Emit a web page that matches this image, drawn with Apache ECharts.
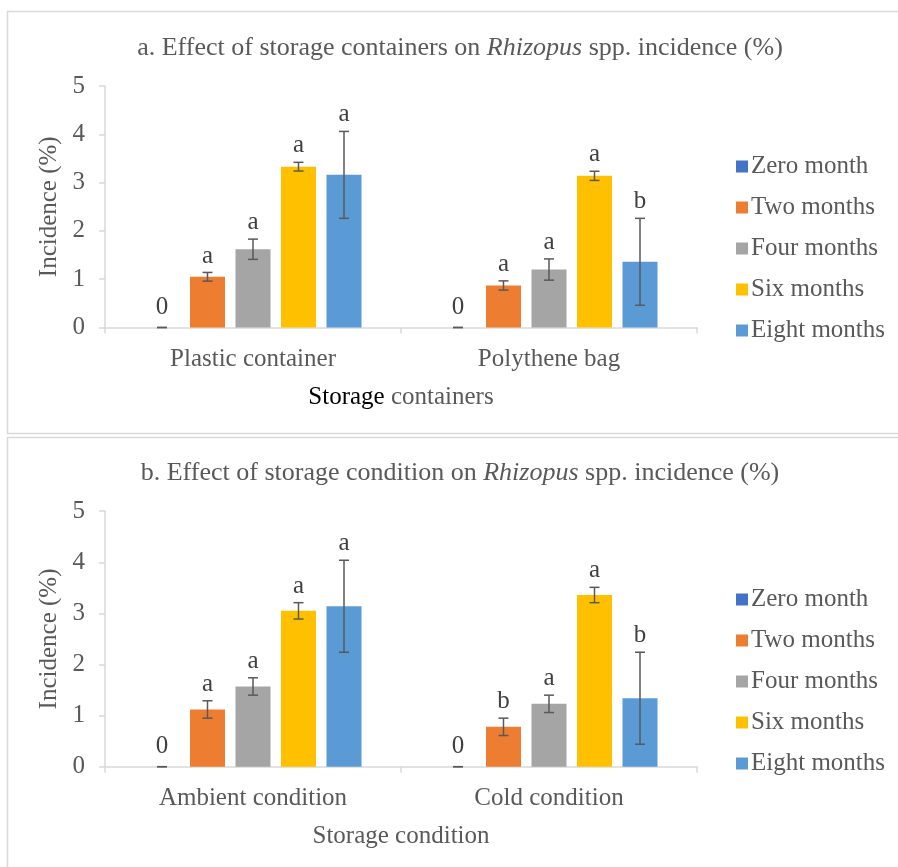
<!DOCTYPE html>
<html>
<head>
<meta charset="utf-8">
<script src="https://cdn.jsdelivr.net/npm/echarts@6/dist/echarts.min.js"></script>
<style>
  html, body { margin: 0; padding: 0; background: #fff; }
  #chart { width: 898px; height: 867px; }
</style>
</head>
<body>
<div id="chart"></div>
<script>
// Storage periods (one bar series per period)
const periods = ['Zero month', 'Two months', 'Four months', 'Six months', 'Eight months'];
const periodColors = ['#4472C4', '#ED7D31', '#A5A5A5', '#FFC000', '#5B9BD5'];

// Panel a: storage containers
const containerCategories = ['Plastic container', 'Polythene bag'];
const containerMeans = [
  [0, 0],
  [1.05, 0.87],
  [1.62, 1.20],
  [3.33, 3.14],
  [3.16, 1.36]
];
const containerErrors = [
  [0, 0],
  [0.09, 0.095],
  [0.21, 0.22],
  [0.09, 0.095],
  [0.90, 0.90]
];
const containerLetters = [
  ['0', '0'],
  ['a', 'a'],
  ['a', 'a'],
  ['a', 'a'],
  ['a', 'b']
];

// Panel b: storage condition
const conditionCategories = ['Ambient condition', 'Cold condition'];
const conditionMeans = [
  [0, 0],
  [1.12, 0.78],
  [1.57, 1.23],
  [3.05, 3.36],
  [3.14, 1.34]
];
const conditionErrors = [
  [0, 0],
  [0.17, 0.17],
  [0.17, 0.17],
  [0.16, 0.15],
  [0.90, 0.90]
];
const conditionLetters = [
  ['0', '0'],
  ['a', 'b'],
  ['a', 'a'],
  ['a', 'a'],
  ['a', 'b']
];

const yTicks = [0, 1, 2, 3, 4, 5];

const FONT = '"Liberation Serif", "Times New Roman", serif';
const TEXT = '#595959';
const AXIS = '#D9D9D9';
const FS = 25;
const TITLE_FS = 26;
const BAR_W = 35;
const BAR_GAP = 0.3;

const chart = echarts.init(document.getElementById('chart'), null, { renderer: 'canvas' });

function barSeries(means, idx) {
  return periods.map((name, s) => ({
    name: name,
    type: 'bar',
    xAxisIndex: idx,
    yAxisIndex: idx,
    barWidth: BAR_W,
    barGap: (BAR_GAP * 100) + '%',
    itemStyle: { color: periodColors[s] },
    data: means[s],
    animation: false
  }));
}

// Error bars and significance letters, placed over each bar
function errorSeries(means, errors, letters, idx) {
  const data = [];
  for (let s = 0; s < periods.length; s++) {
    for (let c = 0; c < means[s].length; c++) {
      data.push([c, s, means[s][c], errors[s][c], letters[s][c]]);
    }
  }
  return {
    type: 'custom',
    xAxisIndex: idx,
    yAxisIndex: idx,
    z: 5,
    animation: false,
    silent: true,
    data: data,
    encode: { x: 0, y: 2 },
    renderItem: function (params, api) {
      const c = api.value(0);
      const s = api.value(1);
      const m = api.value(2);
      const e = api.value(3);
      const letter = data[params.dataIndex][4];
      const center = api.coord([c, m])[0];
      const x = center + (s - (periods.length - 1) / 2) * BAR_W * (1 + BAR_GAP);
      const yTop = api.coord([c, m + e])[1];
      const yBot = api.coord([c, m - e])[1];
      const cap = 5;
      const lineStyle = { stroke: '#595959', lineWidth: 1.5 };
      return {
        type: 'group',
        children: [
          { type: 'line', shape: { x1: x, y1: yTop, x2: x, y2: yBot }, style: lineStyle },
          { type: 'line', shape: { x1: x - cap, y1: yTop, x2: x + cap, y2: yTop }, style: lineStyle },
          { type: 'line', shape: { x1: x - cap, y1: yBot, x2: x + cap, y2: yBot }, style: lineStyle },
          {
            type: 'text',
            style: {
              text: letter,
              x: x,
              y: yTop - (e === 0 ? 8 : 4),
              textAlign: 'center',
              textVerticalAlign: 'bottom',
              fill: '#404040',
              font: FS + 'px ' + FONT
            }
          }
        ]
      };
    }
  };
}

function xAxis(categories, idx, nameRich) {
  return {
    type: 'category',
    gridIndex: idx,
    data: categories,
    axisLine: { lineStyle: { color: AXIS, width: 1.5 } },
    axisTick: { show: true, length: 6, lineStyle: { color: AXIS, width: 1.5 } },
    axisLabel: { color: TEXT, fontFamily: FONT, fontSize: FS, margin: 19 },
    name: nameRich,
    nameLocation: 'middle',
    nameGap: 57,
    nameTextStyle: {
      fontFamily: FONT, fontSize: FS, color: TEXT,
      rich: {
        dark: { fontFamily: FONT, fontSize: FS, color: '#000000' },
        grey: { fontFamily: FONT, fontSize: FS, color: TEXT }
      }
    }
  };
}

function yAxis(idx) {
  return {
    type: 'value',
    gridIndex: idx,
    min: yTicks[0],
    max: yTicks[yTicks.length - 1],
    interval: yTicks[1] - yTicks[0],
    splitLine: { show: false },
    axisLine: { show: true, lineStyle: { color: AXIS, width: 1.5 } },
    axisTick: { show: true, length: 6, lineStyle: { color: AXIS, width: 1.5 } },
    axisLabel: { color: TEXT, fontFamily: FONT, fontSize: FS, margin: 20 },
    name: 'Incidence (%)',
    nameLocation: 'middle',
    nameRotate: 90,
    nameGap: 42,
    nameTextStyle: { fontFamily: FONT, fontSize: FS, color: TEXT }
  };
}

function legend(top) {
  return {
    data: periods,
    orient: 'vertical',
    left: 731,
    top: top,
    icon: 'rect',
    itemWidth: 12,
    itemHeight: 12,
    itemGap: 16,
    selectedMode: false,
    textStyle: { color: TEXT, fontFamily: FONT, fontSize: FS, padding: [0, 0, 0, -2] }
  };
}

function titleText(lead) {
  return '{n|' + lead + ' on }{i|Rhizopus}{n| spp. incidence (%)}';
}

const titleRich = {
  n: { fontFamily: FONT, fontSize: TITLE_FS, color: TEXT, fontWeight: 'normal' },
  i: { fontFamily: FONT, fontSize: TITLE_FS, color: TEXT, fontWeight: 'normal', fontStyle: 'italic' }
};

const option = {
  backgroundColor: '#ffffff',
  animation: false,
  graphic: [
    { type: 'rect', shape: { x: 7.5, y: 11.5, width: 900, height: 422 }, style: { fill: 'none', stroke: AXIS, lineWidth: 1.5 }, silent: true },
    { type: 'rect', shape: { x: 7.5, y: 437.5, width: 900, height: 440 }, style: { fill: 'none', stroke: AXIS, lineWidth: 1.5 }, silent: true }
  ],
  title: [
    {
      text: titleText('a. Effect of storage containers'),
      left: 459, top: 30, textAlign: 'center',
      textStyle: { fontWeight: 'normal', rich: titleRich }
    },
    {
      text: titleText('b. Effect of storage condition'),
      left: 459, top: 455, textAlign: 'center',
      textStyle: { fontWeight: 'normal', rich: titleRich }
    }
  ],
  legend: [legend(149), legend(582)],
  grid: [
    { left: 105, right: 201, top: 86, bottom: 539.5 },
    { left: 105, right: 201, top: 511.2, bottom: 100.3 }
  ],
  xAxis: [
    xAxis(containerCategories, 0, '{dark|Storage}{grey| containers}'),
    xAxis(conditionCategories, 1, 'Storage condition')
  ],
  yAxis: [yAxis(0), yAxis(1)],
  series: [].concat(
    barSeries(containerMeans, 0),
    barSeries(conditionMeans, 1),
    [errorSeries(containerMeans, containerErrors, containerLetters, 0),
     errorSeries(conditionMeans, conditionErrors, conditionLetters, 1)]
  )
};

// Pull both titles slightly left so they sit over the plot area
option.title.forEach(t => { t.left = 455; });

chart.setOption(option);
</script>
</body>
</html>
